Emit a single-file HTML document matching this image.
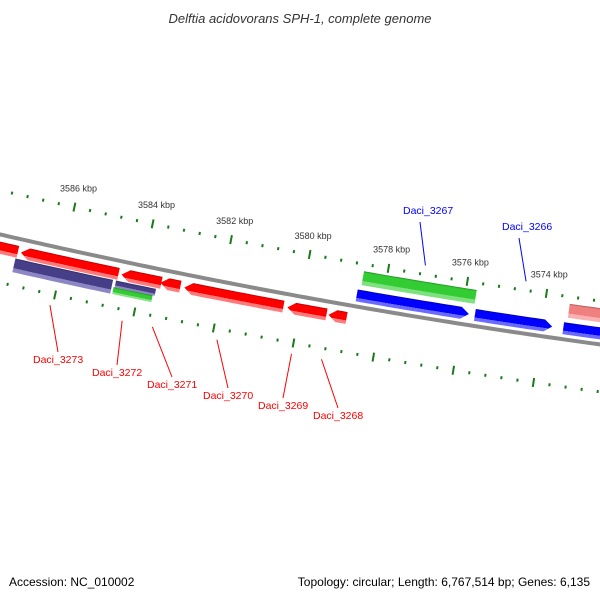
<!DOCTYPE html>
<html><head><meta charset="utf-8"><style>
html,body{margin:0;padding:0;background:#fff}
svg{display:block;font-family:"Liberation Sans",sans-serif}
</style></head><body>
<svg id="map" width="600" height="600" viewBox="0 0 600 600" xmlns="http://www.w3.org/2000/svg">
<rect x="0" y="0" width="600" height="600" fill="#fff"/>
<text x="300" y="23" text-anchor="middle" font-size="13" font-style="italic" fill="#333">Delftia acidovorans SPH-1, complete genome</text>
<g id="rings"></g>
<g id="labels"></g>
<text x="9" y="586" font-size="12" fill="#000">Accession: NC_010002</text>
<text x="590" y="586" font-size="12" fill="#000" text-anchor="end">Topology: circular; Length: 6,767,514 bp; Genes: 6,135</text>
</svg>
<script>
// ---- data ----
const featNames = ["gene-a","Daci_3273_cds","Daci_3271_cds","gene-b","Daci_3270_cds","Daci_3269_cds","Daci_3268_cds","Daci_3273","Daci_3272","Daci_3272_b","Daci_3267","Daci_3266","gene-c","Daci_3267_cds","gene-d"];
const featStart = [3587130,3584576,3583490,3583010,3580408,3579322,3578817,3584677,3583590,3583640,3575837,3573740,3571800,3575736,3571800];
const featEnd   = [3588400,3587052,3584500,3583515,3582909,3580307,3579271,3587153,3584601,3584627,3578666,3575685,3573462,3578590,3573386];
const featDir   = [1,1,1,1,1,1,1,0,0,0,-1,-1,-1,0,0];
const featKind  = ["red","red","red","red","red","red","red","purple","purpleTop","greenBot","blue","blue","blue","green","pink"];
const tickStart = 3572000, tickEnd = 3588000, tickStep = 400, majorStep = 2000;
const labelNames = ["Daci_3267","Daci_3266","Daci_3273","Daci_3272","Daci_3271","Daci_3270","Daci_3269","Daci_3268"];
const labelBp = [3577100,3574550,3586070,3584250,3583490,3581870,3580000,3579250];

// ---- geometry ----
const CX=1517.5, CY=-6351, R=6758;
const DEG_PER_KBP=0.3413, THETA0=102.41, KBP0=3586;
function ang(bp){return (THETA0+DEG_PER_KBP*(bp/1000-KBP0))*Math.PI/180;}
function pt(r,a){return [CX+r*Math.cos(a), CY+r*Math.sin(a)];}
function arcPts(r,a1,a2){const n=Math.max(2,Math.ceil(Math.abs(a2-a1)/0.0008));const p=[];for(let i=0;i<=n;i++){p.push(pt(r,a1+(a2-a1)*i/n));}return p;}
const NS="http://www.w3.org/2000/svg";
const rings=document.getElementById('rings');
const defs=document.createElementNS(NS,'defs');rings.appendChild(defs);

const kinds={
 red:{rIn:R+7,rOut:R+19,dark:"#b00000",main:"#ff0000",light:"#ff7a7a"},
 purple:{rIn:R+20,rOut:R+34,dark:"#2e2866",main:"#463f88",light:"#8c86c4"},
 purpleTop:{rIn:R+20,rOut:R+27,dark:"#2e2866",main:"#463f88",light:"#8c86c4"},
 greenBot:{rIn:R+27,rOut:R+34,dark:"#228822",main:"#33cc33",light:"#88e088"},
 blue:{rIn:R-17,rOut:R-5,dark:"#0000a0",main:"#0000ff",light:"#6a6aff"},
 green:{rIn:R-36,rOut:R-22,dark:"#1f8a1f",main:"#33cc33",light:"#7ee07e"},
 pink:{rIn:R-36,rOut:R-22,dark:"#a05050",main:"#f08080",light:"#f8b0b0"}
};

// backbone
(function(){
 const p=arcPts(R,ang(3570000),ang(3590000));
 const pl=document.createElementNS(NS,'polyline');
 pl.setAttribute('points',p.map(q=>q.join(',')).join(' '));
 pl.setAttribute('fill','none');pl.setAttribute('stroke','#8a8a8a');pl.setAttribute('stroke-width','4');
 
 
 rings.appendChild(pl);
})();

// ticks
for(let bp=tickStart;bp<=tickEnd;bp+=tickStep){
 const a=ang(bp);const major=(bp%majorStep===0);
 [[R-43,'upper'],[R+47,'lower']].forEach(([rc,side])=>{
  const h=major?4.5:1.5;
  const p1=pt(rc-h,a),p2=pt(rc+h,a);
  const ln=document.createElementNS(NS,'line');
  ln.setAttribute('x1',p1[0]);ln.setAttribute('y1',p1[1]);ln.setAttribute('x2',p2[0]);ln.setAttribute('y2',p2[1]);
  ln.setAttribute('stroke','#1a7a1a');ln.setAttribute('stroke-width','2');
  
  
  rings.appendChild(ln);
 });
 const lp=pt(R-43-19,a);
 if(major && lp[0]>25 && lp[0]<580){
  const t=document.createElementNS(NS,'text');
  t.setAttribute('x',lp[0]);t.setAttribute('y',lp[1]+3);t.setAttribute('text-anchor','middle');
  t.setAttribute('font-size','9');t.setAttribute('fill','#333');
  t.textContent=(bp/1000)+' kbp';
  
  
  rings.appendChild(t);
 }
}

// features
featStart.forEach((s,i)=>{
 const k=kinds[featKind[i]];const e=featEnd[i];
 const aS=ang(s),aE=ang(e);
 const head=8/R;const rm=(k.rIn+k.rOut)/2;
 let pts=[];
 if(featDir[i]===1){
  const b=Math.max(aS,aE-head);
  pts=arcPts(k.rOut,aS,b).concat([pt(rm,aE)]).concat(arcPts(k.rIn,b,aS));
 }else if(featDir[i]===-1){
  const b=Math.min(aE,aS+head);
  pts=[pt(rm,aS)].concat(arcPts(k.rOut,b,aE)).concat(arcPts(k.rIn,aE,b));
 }else{
  pts=arcPts(k.rOut,aS,aE).concat(arcPts(k.rIn,aE,aS));
 }
 const gid='g'+i;
 const g=document.createElementNS(NS,'radialGradient');
 g.setAttribute('id',gid);g.setAttribute('gradientUnits','userSpaceOnUse');
 g.setAttribute('cx',CX);g.setAttribute('cy',CY);g.setAttribute('r',k.rOut);
 const th=k.rOut-k.rIn;
 [[k.rIn,k.dark],[k.rIn+1.5,k.main],[k.rOut-th*0.3,k.main],[k.rOut-th*0.3,k.light],[k.rOut,k.light]].forEach(([r,c])=>{
  const st=document.createElementNS(NS,'stop');st.setAttribute('offset',(r/k.rOut).toFixed(7));st.setAttribute('stop-color',c);g.appendChild(st);
 });
 defs.appendChild(g);
 const pg=document.createElementNS(NS,'polygon');
 pg.setAttribute('points',pts.map(q=>q[0].toFixed(2)+','+q[1].toFixed(2)).join(' '));
 pg.setAttribute('fill','url(#'+gid+')');
 
 
 rings.appendChild(pg);
});

// gene labels (text positions are layout)
const labelPos=[[403,214,'#0000ff',R-52],[502,230,'#0000ff',R-52],[33,363,'#ff0000',R+58],[92,376,'#ff0000',R+58],[147,388,'#ff0000',R+58],[203,399,'#ff0000',R+58],[258,409,'#ff0000',R+58],[313,419,'#ff0000',R+58]];
const lg=document.getElementById('labels');
labelNames.forEach((n,i)=>{
 const [x,y,c,r0]=labelPos[i];
 const p=pt(r0,ang(labelBp[i]));
 const up=c==='#0000ff';
 const ln=document.createElementNS(NS,'line');
 ln.setAttribute('x1',p[0]);ln.setAttribute('y1',p[1]);
 ln.setAttribute('x2',x+(up?17:25));ln.setAttribute('y2',up?y+8:y-11);
 ln.setAttribute('stroke',c);ln.setAttribute('stroke-width','1');
 
 
 lg.appendChild(ln);
 const t=document.createElementNS(NS,'text');
 t.setAttribute('x',x);t.setAttribute('y',y);t.setAttribute('font-size','10.5');t.setAttribute('fill',c);
 t.textContent=n;
 
 
 lg.appendChild(t);
});
</script>
</body></html>
